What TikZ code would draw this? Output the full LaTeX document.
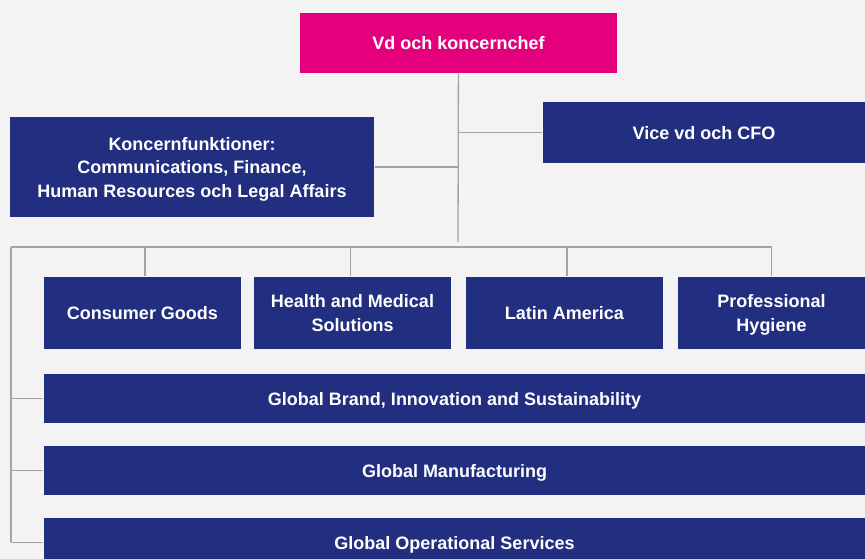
\documentclass[tikz,border=0pt]{standalone}
\usepackage{fontspec}
\setmainfont{Liberation Sans}
\usetikzlibrary{positioning}
\definecolor{bgGray}{HTML}{F3F3F3}
\definecolor{orgPink}{HTML}{E4007C}
\definecolor{orgBlue}{HTML}{222E80}
\definecolor{lineGray}{HTML}{9CA6A8}

\begin{document}
\begin{tikzpicture}[x=1pt,y=-1pt,-,line width=1.3pt,
    box/.style={rectangle,fill=orgBlue,text=white,align=center,inner sep=0pt,
      text depth=-2pt,font=\fontsize{18}{23.5}\selectfont\bfseries},
    top box/.style={box,fill=orgPink},
    unit box/.style={box,minimum width=197pt,minimum height=72pt},
    bar box/.style={box,minimum width=821pt,minimum height=49pt},
    link/.style={draw=lineGray,line width=1.3pt}]
   \fill[bgGray] (0,0) rectangle (865,559);
   \useasboundingbox (0,0) rectangle (865,559);
   \begin{scope}
     % ledning
     \node[top box,minimum width=317pt,minimum height=60pt] (vd) at (458.5,43) {Vd och koncernchef};
     \node[box,minimum width=322pt,minimum height=61pt] (cfo) at (704,132.5) {Vice vd och CFO};
     \node[box,minimum width=364pt,minimum height=100pt] (funk) at (192,167) {Koncernfunktioner:\\Communications, Finance,\\Human Resources och Legal Affairs};
     % affarsomraden
     \node[unit box] (consumer) at (142.5,313) {Consumer Goods};
     \node[unit box] (health) at (352.5,313) {Health and Medical\\Solutions};
     \node[unit box] (latin) at (564.5,313) {Latin America};
     \node[unit box,minimum width=187pt] (hygiene) at (771.5,313) {Professional\\Hygiene};
     % globala funktioner
     \node[bar box] (brand) at (454.5,398.5) {Global Brand, Innovation and Sustainability};
     \node[bar box] (manuf) at (454.5,470.5) {Global Manufacturing};
     \node[bar box] (oper) at (454.5,542.5) {Global Operational Services};
     % hjalppunkter
     \coordinate (stem) at (458,242);
     \coordinate (busL) at (11,247);
     \coordinate (busR) at (772,247);
     \coordinate (railB) at (11,542);
      \path[link] (vd) edge (stem);
      \path[link] (cfo.west) edge (cfo.west -| vd);
      \path[link] (funk.east) edge (funk.east -| vd);
      \path[link] (busL) edge (busR);
      \path[link] (busL) edge (railB);
      \path[link] (consumer.north -| 145,0) edge (145,247);
      \path[link] (health.north -| 350.5,0) edge (350.5,247);
      \path[link] (latin.north -| 567,0) edge (567,247);
      \path[link] (hygiene.north) edge (hygiene.north |- busR);
      \path[link] (brand.west) edge (brand.west -| busL);
      \path[link] (manuf.west) edge (manuf.west -| busL);
      \path[link] (oper.west) edge (oper.west -| busL);
    \end{scope}
  \end{tikzpicture}
\end{document}
